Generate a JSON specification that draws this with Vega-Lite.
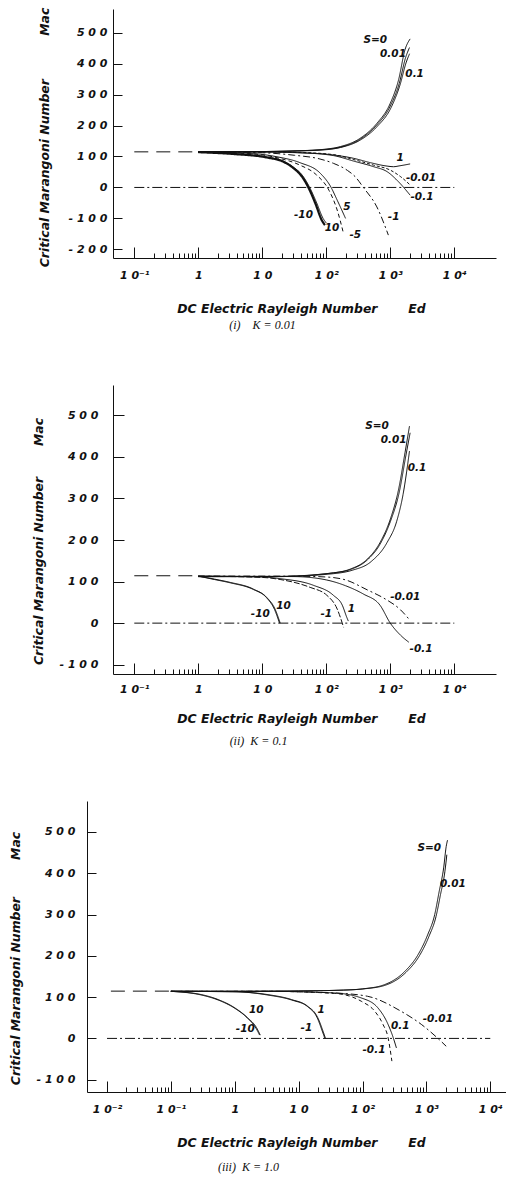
{
 "$schema": "https://vega.github.io/schema/vega-lite/v6.json",
 "background": "white",
 "padding": {"left": 9, "top": 7, "right": 0, "bottom": 0},
 "bounds": "flush",
 "spacing": 127,
 "config": {
  "view": {"stroke": null},
  "axis": {"grid": false, "domainColor": "#111", "tickColor": "#111", "labelColor": "#111", "titleColor": "#111", "labelFont": "DejaVu Sans", "labelFontSize": 11, "labelFontWeight": "bold", "labelFontStyle": "italic", "titleFont": "DejaVu Sans", "titleFontSize": 12.4, "titleFontWeight": "bold", "titleFontStyle": "italic", "labelOverlap": false, "labelFlush": false, "tickWidth": 1, "domainWidth": 1},
  "title": {"font": "Liberation Serif", "fontSize": 12, "fontStyle": "italic", "fontWeight": "normal", "color": "#111"},
  "text": {"font": "DejaVu Sans", "fontSize": 10.5, "fontWeight": "bold", "fontStyle": "italic", "color": "#111"},
  "line": {"color": "#111"}
 },
 "resolve": {"scale": {"x": "independent", "y": "independent", "strokeDash": "independent"}},
 "datasets": {
  "c1": [
   {"S":"0","Ed":1,"Mac":115},{"S":"0","Ed":10,"Mac":116},{"S":"0","Ed":31.6,"Mac":118},{"S":"0","Ed":100,"Mac":124},{"S":"0","Ed":166,"Mac":132},{"S":"0","Ed":339,"Mac":159},{"S":"0","Ed":617,"Mac":207},{"S":"0","Ed":1000,"Mac":272},{"S":"0","Ed":1349,"Mac":348},{"S":"0","Ed":1698,"Mac":445},{"S":"0","Ed":2042,"Mac":480},
   {"S":"0.01","Ed":1,"Mac":115},{"S":"0.01","Ed":10,"Mac":116},{"S":"0.01","Ed":31.6,"Mac":118},{"S":"0.01","Ed":100,"Mac":123},{"S":"0.01","Ed":166,"Mac":130},{"S":"0.01","Ed":339,"Mac":156},{"S":"0.01","Ed":617,"Mac":202},{"S":"0.01","Ed":1000,"Mac":263},{"S":"0.01","Ed":1380,"Mac":336},{"S":"0.01","Ed":1738,"Mac":420},{"S":"0.01","Ed":1995,"Mac":452},
   {"S":"0.1","Ed":1,"Mac":115},{"S":"0.1","Ed":10,"Mac":116},{"S":"0.1","Ed":31.6,"Mac":117.5},{"S":"0.1","Ed":100,"Mac":122},{"S":"0.1","Ed":166,"Mac":129},{"S":"0.1","Ed":339,"Mac":153},{"S":"0.1","Ed":617,"Mac":196},{"S":"0.1","Ed":1023,"Mac":257},{"S":"0.1","Ed":1413,"Mac":330},{"S":"0.1","Ed":1778,"Mac":405},{"S":"0.1","Ed":2000,"Mac":432},
   {"S":"1","Ed":1,"Mac":115},{"S":"1","Ed":10,"Mac":114},{"S":"1","Ed":38.9,"Mac":112},{"S":"1","Ed":129,"Mac":105},{"S":"1","Ed":269,"Mac":94},{"S":"1","Ed":490,"Mac":80},{"S":"1","Ed":891,"Mac":69},{"S":"1","Ed":1122,"Mac":67},{"S":"1","Ed":1413,"Mac":70},{"S":"1","Ed":2042,"Mac":76},
   {"S":"-0.01","Ed":1,"Mac":115},{"S":"-0.01","Ed":10,"Mac":115},{"S":"-0.01","Ed":39.8,"Mac":113},{"S":"-0.01","Ed":129,"Mac":106},{"S":"-0.01","Ed":269,"Mac":90},{"S":"-0.01","Ed":550,"Mac":72},{"S":"-0.01","Ed":1000,"Mac":56},{"S":"-0.01","Ed":1445,"Mac":35},{"S":"-0.01","Ed":2042,"Mac":8},
   {"S":"-0.1","Ed":1,"Mac":115},{"S":"-0.1","Ed":10,"Mac":115},{"S":"-0.1","Ed":39.8,"Mac":112},{"S":"-0.1","Ed":129,"Mac":103},{"S":"-0.1","Ed":269,"Mac":85},{"S":"-0.1","Ed":550,"Mac":67},{"S":"-0.1","Ed":891,"Mac":51},{"S":"-0.1","Ed":1349,"Mac":18},{"S":"-0.1","Ed":2042,"Mac":-25},
   {"S":"-1","Ed":1,"Mac":115},{"S":"-1","Ed":10,"Mac":112},{"S":"-1","Ed":31.6,"Mac":104},{"S":"-1","Ed":79.4,"Mac":92},{"S":"-1","Ed":129,"Mac":78},{"S":"-1","Ed":214,"Mac":55},{"S":"-1","Ed":282,"Mac":35},{"S":"-1","Ed":380,"Mac":0},{"S":"-1","Ed":617,"Mac":-63},{"S":"-1","Ed":933,"Mac":-154},
   {"S":"5","Ed":1,"Mac":114},{"S":"5","Ed":6.46,"Mac":110},{"S":"5","Ed":17,"Mac":99},{"S":"5","Ed":38.9,"Mac":80},{"S":"5","Ed":81.3,"Mac":45},{"S":"5","Ed":117.5,"Mac":2},{"S":"5","Ed":148,"Mac":-41},{"S":"5","Ed":200,"Mac":-100},
   {"S":"-5","Ed":1,"Mac":114},{"S":"-5","Ed":6.46,"Mac":109},{"S":"-5","Ed":17,"Mac":96},{"S":"-5","Ed":38.9,"Mac":72},{"S":"-5","Ed":70.8,"Mac":40},{"S":"-5","Ed":110,"Mac":-9},{"S":"-5","Ed":148,"Mac":-73},{"S":"-5","Ed":186,"Mac":-149},
   {"S":"-10","Ed":1,"Mac":114},{"S":"-10","Ed":3.55,"Mac":108},{"S":"-10","Ed":11.7,"Mac":97},{"S":"-10","Ed":21.4,"Mac":83},{"S":"-10","Ed":30.9,"Mac":62},{"S":"-10","Ed":41.7,"Mac":35},{"S":"-10","Ed":52.5,"Mac":0},{"S":"-10","Ed":67.6,"Mac":-52},{"S":"-10","Ed":85.1,"Mac":-106},{"S":"-10","Ed":95.5,"Mac":-122},
   {"S":"10","Ed":1,"Mac":114},{"S":"10","Ed":3.55,"Mac":108.5},{"S":"10","Ed":11.7,"Mac":98},{"S":"10","Ed":21.4,"Mac":85},{"S":"10","Ed":30.9,"Mac":65},{"S":"10","Ed":42.7,"Mac":38},{"S":"10","Ed":55,"Mac":0},{"S":"10","Ed":70.8,"Mac":-50},{"S":"10","Ed":89.1,"Mac":-100},{"S":"10","Ed":100,"Mac":-115},
   {"S":"zero","Ed":0.1,"Mac":0},{"S":"zero","Ed":10000,"Mac":0},
   {"S":"asym","Ed":0.1,"Mac":115},{"S":"asym","Ed":1,"Mac":115}
  ],
  "t1": [
   {"t":"S=0","Ed":583,"Mac":475},{"t":"0.01","Ed":1102,"Mac":432},{"t":"0.1","Ed":2400,"Mac":366},{"t":"1","Ed":1432,"Mac":94},{"t":"-0.01","Ed":3020,"Mac":32},{"t":"-0.1","Ed":3127,"Mac":-30},{"t":"-1","Ed":1130,"Mac":-95},{"t":"5","Ed":210,"Mac":-63},{"t":"-5","Ed":284,"Mac":-155},{"t":"-10","Ed":44,"Mac":-90},{"t":"10","Ed":123,"Mac":-130}
  ],
  "c2": [
   {"S":"0","Ed":1,"Mac":112},{"S":"0","Ed":17,"Mac":112},{"S":"0","Ed":129,"Mac":121},{"S":"0","Ed":237,"Mac":130},{"S":"0","Ed":437,"Mac":154},{"S":"0","Ed":692,"Mac":194},{"S":"0","Ed":1000,"Mac":250},{"S":"0","Ed":1349,"Mac":322},{"S":"0","Ed":1698,"Mac":410},{"S":"0","Ed":1995,"Mac":474},
   {"S":"0.01","Ed":1,"Mac":112},{"S":"0.01","Ed":17,"Mac":112.5},{"S":"0.01","Ed":129,"Mac":121},{"S":"0.01","Ed":237,"Mac":129},{"S":"0.01","Ed":437,"Mac":152},{"S":"0.01","Ed":692,"Mac":190},{"S":"0.01","Ed":1000,"Mac":244},{"S":"0.01","Ed":1380,"Mac":315},{"S":"0.01","Ed":1738,"Mac":400},{"S":"0.01","Ed":2042,"Mac":458},
   {"S":"0.1","Ed":1,"Mac":112},{"S":"0.1","Ed":17,"Mac":112},{"S":"0.1","Ed":129,"Mac":119},{"S":"0.1","Ed":251,"Mac":127},{"S":"0.1","Ed":501,"Mac":148},{"S":"0.1","Ed":891,"Mac":194},{"S":"0.1","Ed":1259,"Mac":245},{"S":"0.1","Ed":1585,"Mac":310},{"S":"0.1","Ed":1995,"Mac":414},
   {"S":"10","Ed":1,"Mac":113},{"S":"10","Ed":1.78,"Mac":106},{"S":"10","Ed":3.16,"Mac":98},{"S":"10","Ed":7.24,"Mac":82},{"S":"10","Ed":11.7,"Mac":62},{"S":"10","Ed":15.8,"Mac":34},{"S":"10","Ed":19.05,"Mac":0},
   {"S":"-10","Ed":1,"Mac":113},{"S":"-10","Ed":1.78,"Mac":105},{"S":"-10","Ed":3.16,"Mac":97},{"S":"-10","Ed":7.24,"Mac":81},{"S":"-10","Ed":11.7,"Mac":61},{"S":"-10","Ed":15.5,"Mac":33},{"S":"-10","Ed":18.6,"Mac":0},
   {"S":"1","Ed":1,"Mac":113},{"S":"1","Ed":10,"Mac":111},{"S":"1","Ed":19,"Mac":107},{"S":"1","Ed":63,"Mac":91},{"S":"1","Ed":129,"Mac":67},{"S":"1","Ed":178,"Mac":43},{"S":"1","Ed":209,"Mac":14},{"S":"1","Ed":221,"Mac":5},
   {"S":"-1","Ed":1,"Mac":113},{"S":"-1","Ed":10,"Mac":110},{"S":"-1","Ed":19,"Mac":105},{"S":"-1","Ed":56,"Mac":86},{"S":"-1","Ed":102,"Mac":67},{"S":"-1","Ed":148,"Mac":34},{"S":"-1","Ed":176,"Mac":2},{"S":"-1","Ed":186,"Mac":-10},
   {"S":"-0.01","Ed":1,"Mac":113},{"S":"-0.01","Ed":31.6,"Mac":113},{"S":"-0.01","Ed":100,"Mac":111},{"S":"-0.01","Ed":200,"Mac":104},{"S":"-0.01","Ed":437,"Mac":80},{"S":"-0.01","Ed":794,"Mac":60},{"S":"-0.01","Ed":1445,"Mac":32},{"S":"-0.01","Ed":1950,"Mac":10},
   {"S":"-0.1","Ed":1,"Mac":113},{"S":"-0.1","Ed":31.6,"Mac":112},{"S":"-0.1","Ed":100,"Mac":104},{"S":"-0.1","Ed":200,"Mac":90},{"S":"-0.1","Ed":380,"Mac":70},{"S":"-0.1","Ed":692,"Mac":43},{"S":"-0.1","Ed":1000,"Mac":0},{"S":"-0.1","Ed":1445,"Mac":-29},{"S":"-0.1","Ed":1950,"Mac":-46},
   {"S":"zero","Ed":0.1,"Mac":0},{"S":"zero","Ed":10000,"Mac":0},
   {"S":"asym","Ed":0.1,"Mac":114},{"S":"asym","Ed":1,"Mac":114}
  ],
  "t2": [
   {"t":"S=0","Ed":620,"Mac":474},{"t":"0.01","Ed":1130,"Mac":441},{"t":"0.1","Ed":2612,"Mac":374},{"t":"-0.01","Ed":1715,"Mac":62},{"t":"-0.1","Ed":3020,"Mac":-63},{"t":"1","Ed":246,"Mac":33},{"t":"-1","Ed":100,"Mac":22},{"t":"10","Ed":21.5,"Mac":42},{"t":"-10","Ed":9.3,"Mac":22}
  ],
  "c3": [
   {"S":"0","Ed":0.1,"Mac":114},{"S":"0","Ed":1,"Mac":114},{"S":"0","Ed":10,"Mac":115},{"S":"0","Ed":50,"Mac":117},{"S":"0","Ed":100,"Mac":120},{"S":"0","Ed":219,"Mac":130},{"S":"0","Ed":457,"Mac":162},{"S":"0","Ed":741,"Mac":203},{"S":"0","Ed":1047,"Mac":251},{"S":"0","Ed":1349,"Mac":300},{"S":"0","Ed":1585,"Mac":356},{"S":"0","Ed":1862,"Mac":413},{"S":"0","Ed":2042,"Mac":465},{"S":"0","Ed":2138,"Mac":480},
   {"S":"0.01","Ed":0.1,"Mac":114},{"S":"0.01","Ed":1,"Mac":114},{"S":"0.01","Ed":10,"Mac":115},{"S":"0.01","Ed":50,"Mac":117},{"S":"0.01","Ed":105,"Mac":120},{"S":"0.01","Ed":229,"Mac":129},{"S":"0.01","Ed":479,"Mac":160},{"S":"0.01","Ed":776,"Mac":200},{"S":"0.01","Ed":1096,"Mac":247},{"S":"0.01","Ed":1413,"Mac":295},{"S":"0.01","Ed":1660,"Mac":348},{"S":"0.01","Ed":1950,"Mac":405},{"S":"0.01","Ed":2089,"Mac":445},
   {"S":"10","Ed":0.1,"Mac":114},{"S":"10","Ed":0.302,"Mac":106},{"S":"10","Ed":0.55,"Mac":94},{"S":"10","Ed":1,"Mac":74},{"S":"10","Ed":1.585,"Mac":50},{"S":"10","Ed":2.19,"Mac":26},{"S":"10","Ed":2.51,"Mac":8},
   {"S":"-10","Ed":0.1,"Mac":114},{"S":"-10","Ed":0.302,"Mac":105},{"S":"-10","Ed":0.55,"Mac":93},{"S":"-10","Ed":1,"Mac":73},{"S":"-10","Ed":1.585,"Mac":49},{"S":"-10","Ed":2.14,"Mac":25},{"S":"-10","Ed":2.45,"Mac":8},
   {"S":"1","Ed":0.1,"Mac":114},{"S":"1","Ed":1,"Mac":113},{"S":"1","Ed":3.31,"Mac":106},{"S":"1","Ed":7.76,"Mac":94},{"S":"1","Ed":13.8,"Mac":78},{"S":"1","Ed":19.95,"Mac":50},{"S":"1","Ed":24,"Mac":18},{"S":"1","Ed":26.3,"Mac":0},
   {"S":"-1","Ed":0.1,"Mac":114},{"S":"-1","Ed":1,"Mac":113},{"S":"-1","Ed":3.31,"Mac":105},{"S":"-1","Ed":7.76,"Mac":93},{"S":"-1","Ed":13.8,"Mac":77},{"S":"-1","Ed":19.5,"Mac":50},{"S":"-1","Ed":23.4,"Mac":18},{"S":"-1","Ed":25.7,"Mac":0},
   {"S":"0.1","Ed":0.1,"Mac":114},{"S":"0.1","Ed":3.16,"Mac":114},{"S":"0.1","Ed":36.3,"Mac":110},{"S":"0.1","Ed":95.5,"Mac":98},{"S":"0.1","Ed":174,"Mac":74},{"S":"0.1","Ed":251,"Mac":34},{"S":"0.1","Ed":302,"Mac":2},{"S":"0.1","Ed":339,"Mac":-23},
   {"S":"-0.1","Ed":0.1,"Mac":114},{"S":"-0.1","Ed":3.16,"Mac":114},{"S":"-0.1","Ed":36.3,"Mac":109},{"S":"-0.1","Ed":95.5,"Mac":90},{"S":"-0.1","Ed":155,"Mac":66},{"S":"-0.1","Ed":209,"Mac":34},{"S":"-0.1","Ed":251,"Mac":2},{"S":"-0.1","Ed":288,"Mac":-55},
   {"S":"-0.01","Ed":0.1,"Mac":114},{"S":"-0.01","Ed":3.16,"Mac":114},{"S":"-0.01","Ed":36.3,"Mac":110},{"S":"-0.01","Ed":120,"Mac":102},{"S":"-0.01","Ed":398,"Mac":66},{"S":"-0.01","Ed":832,"Mac":34},{"S":"-0.01","Ed":1514,"Mac":0},{"S":"-0.01","Ed":2042,"Mac":-19},
   {"S":"zero","Ed":0.01,"Mac":0},{"S":"zero","Ed":10000,"Mac":0},
   {"S":"asym","Ed":0.0115,"Mac":114.5},{"S":"asym","Ed":0.1,"Mac":114.5}
  ],
  "t3": [
   {"t":"S=0","Ed":1107,"Mac":460},{"t":"0.01","Ed":2595,"Mac":373},{"t":"10","Ed":2.17,"Mac":70},{"t":"-10","Ed":1.46,"Mac":22},{"t":"1","Ed":22.6,"Mac":68},{"t":"-1","Ed":13.2,"Mac":26},{"t":"0.1","Ed":390,"Mac":31},{"t":"-0.1","Ed":151,"Mac":-27},{"t":"-0.01","Ed":1510,"Mac":48}
  ]
 },
 "vconcat": [
  {
   "width": 409, "height": 249,
   "title": {"text": "(i)\u2003K = 0.01", "orient": "bottom", "frame": "group", "anchor": "middle", "dx": -29, "offset": 6},
   "encoding": {
    "x": {"field": "Ed", "type": "quantitative",
     "scale": {"type": "log", "domain": [0.0465, 44850], "range": [26, 409], "nice": false},
     "axis": {"title": "DC Electric Rayleigh Number\u2003\u2003\u2002Ed", "titleX": 214, "titleY": 50, "titleBaseline": "middle", "titleAlign": "center",
      "values": [0.1,0.2,0.3,0.4,0.5,0.6,0.7,0.8,0.9,1,2,3,4,5,6,7,8,9,10,20,30,40,50,60,70,80,90,100,200,300,400,500,600,700,800,900,1000,2000,3000,4000,5000,6000,7000,8000,9000,10000],
      "labelExpr": "datum.value == 0.1 ? '1 0\u207B\u00B9' : datum.value == 1 ? '1' : datum.value == 10 ? '1 0' : datum.value == 100 ? '1 0\u00B2' : datum.value == 1000 ? '1 0\u00B3' : datum.value == 10000 ? '1 0\u2074' : ''",
      "labelBaseline": "middle", "labelPadding": 28,
      "tickSize": {"condition": {"test": "datum.value == 0.1 || datum.value == 1 || datum.value == 10 || datum.value == 100 || datum.value == 1000 || datum.value == 10000", "value": -11}, "value": -5}}},
    "y": {"field": "Mac", "type": "quantitative",
     "scale": {"domain": [-228, 576.6], "nice": false, "zero": false},
     "axis": {"title": "Critical Marangoni Number\u2003\u2003\u2003\u2002Ma\u1D04", "titleX": -69, "titleY": 128, "titleAngle": 270, "titleAlign": "center", "titleBaseline": "middle",
      "values": [-200,-100,0,100,200,300,400,500],
      "labelExpr": "datum.value == 500 ? '5 0 0' : datum.value == 400 ? '4 0 0' : datum.value == 300 ? '3 0 0' : datum.value == 200 ? '2 0 0' : datum.value == 100 ? '1 0 0' : datum.value == 0 ? '0' : datum.value == -100 ? '- 1 0 0' : '- 2 0 0'",
      "tickSize": -9, "labelPadding": 15, "offset": -26}}
   },
   "layer": [
    {"data": {"name": "c1"}, "mark": {"type": "line", "interpolate": "monotone"},
     "encoding": {
      "strokeDash": {"field": "S", "type": "nominal", "legend": null,
       "scale": {"domain": ["0","0.01","0.1","1","-0.01","-0.1","-1","5","-5","10","-10","zero","asym"],
        "range": [[1,0],[1,0],[1,0],[1,0],[3,2],[1,0],[7,3,2,3],[1,0],[4,3],[1,0],[1,0],[10,3,2,3],[14,8]]}},
      "strokeWidth": {"condition": {"test": "datum.S === '-10'", "value": 2.2}, "value": 1}}},
    {"data": {"name": "t1"}, "mark": {"type": "text"}, "encoding": {"text": {"field": "t", "type": "nominal"}}}
   ]
  },
  {
   "width": 409, "height": 289,
   "title": {"text": "(ii)\u2002K = 0.1", "orient": "bottom", "frame": "group", "anchor": "middle", "dx": -33, "offset": 12},
   "encoding": {
    "x": {"field": "Ed", "type": "quantitative",
     "scale": {"type": "log", "domain": [0.0465, 44850], "range": [26, 409], "nice": false},
     "axis": {"title": "DC Electric Rayleigh Number\u2003\u2003\u2002Ed", "titleX": 214, "titleY": 44, "titleBaseline": "middle", "titleAlign": "center",
      "values": [0.1,0.2,0.3,0.4,0.5,0.6,0.7,0.8,0.9,1,2,3,4,5,6,7,8,9,10,20,30,40,50,60,70,80,90,100,200,300,400,500,600,700,800,900,1000,2000,3000,4000,5000,6000,7000,8000,9000,10000],
      "labelExpr": "datum.value == 0.1 ? '1 0\u207B\u00B9' : datum.value == 1 ? '1' : datum.value == 10 ? '1 0' : datum.value == 100 ? '1 0\u00B2' : datum.value == 1000 ? '1 0\u00B3' : datum.value == 10000 ? '1 0\u2074' : ''",
      "labelBaseline": "middle", "labelPadding": 26,
      "tickSize": {"condition": {"test": "datum.value == 0.1 || datum.value == 1 || datum.value == 10 || datum.value == 100 || datum.value == 1000 || datum.value == 10000", "value": -11}, "value": -5}}},
    "y": {"field": "Mac", "type": "quantitative",
     "scale": {"domain": [-122.4, 573], "nice": false, "zero": false},
     "axis": {"title": "Critical Marangoni Number\u2003\u2003\u2002Ma\u1D04", "titleX": -75, "titleY": 156, "titleAngle": 270, "titleAlign": "center", "titleBaseline": "middle",
      "values": [-100,0,100,200,300,400,500],
      "labelExpr": "datum.value == 500 ? '5 0 0' : datum.value == 400 ? '4 0 0' : datum.value == 300 ? '3 0 0' : datum.value == 200 ? '2 0 0' : datum.value == 100 ? '1 0 0' : datum.value == 0 ? '0' : '- 1 0 0'",
      "tickSize": -11, "labelPadding": 26, "offset": -26}}
   },
   "layer": [
    {"data": {"name": "c2"}, "mark": {"type": "line", "interpolate": "monotone", "strokeWidth": 1},
     "encoding": {
      "strokeDash": {"field": "S", "type": "nominal", "legend": null,
       "scale": {"domain": ["0","0.01","0.1","10","-10","1","-1","-0.01","-0.1","zero","asym"],
        "range": [[1,0],[1,0],[1,0],[1,0],[1,0],[1,0],[6,2],[7,3,2,3],[1,0],[10,3,2,3],[14,8]]}}}},
    {"data": {"name": "t2"}, "mark": {"type": "text"}, "encoding": {"text": {"field": "t", "type": "nominal"}}}
   ]
  },
  {
   "width": 419, "height": 291,
   "title": {"text": "(iii)\u2002K = 1.0", "orient": "bottom", "frame": "group", "anchor": "middle", "dx": -48, "offset": 14},
   "encoding": {
    "x": {"field": "Ed", "type": "quantitative",
     "scale": {"type": "log", "domain": [0.00486, 17620], "nice": false},
     "axis": {"title": "DC Electric Rayleigh Number\u2003\u2003\u2002Ed", "titleX": 214, "titleY": 50, "titleBaseline": "middle", "titleAlign": "center",
      "values": [0.01,0.02,0.03,0.04,0.05,0.06,0.07,0.08,0.09,0.1,0.2,0.3,0.4,0.5,0.6,0.7,0.8,0.9,1,2,3,4,5,6,7,8,9,10,20,30,40,50,60,70,80,90,100,200,300,400,500,600,700,800,900,1000,2000,3000,4000,5000,6000,7000,8000,9000,10000],
      "labelExpr": "datum.value == 0.01 ? '1 0\u207B\u00B2' : datum.value == 0.1 ? '1 0\u207B\u00B9' : datum.value == 1 ? '1' : datum.value == 10 ? '1 0' : datum.value == 100 ? '1 0\u00B2' : datum.value == 1000 ? '1 0\u00B3' : datum.value == 10000 ? '1 0\u2074' : ''",
      "labelBaseline": "middle", "labelPadding": 28,
      "tickSize": {"condition": {"test": "datum.value == 0.01 || datum.value == 0.1 || datum.value == 1 || datum.value == 10 || datum.value == 100 || datum.value == 1000 || datum.value == 10000", "value": -11}, "value": -5}}},
    "y": {"field": "Mac", "type": "quantitative",
     "scale": {"domain": [-129.8, 575], "nice": false, "zero": false},
     "axis": {"title": "Critical Marangoni Number\u2003\u2003\u2003Ma\u1D04", "titleX": -72, "titleY": 157, "titleAngle": 270, "titleAlign": "center", "titleBaseline": "middle",
      "values": [-100,0,100,200,300,400,500],
      "labelExpr": "datum.value == 500 ? '5 0 0' : datum.value == 400 ? '4 0 0' : datum.value == 300 ? '3 0 0' : datum.value == 200 ? '2 0 0' : datum.value == 100 ? '1 0 0' : datum.value == 0 ? '0' : '- 1 0 0'",
      "tickSize": -9, "labelPadding": 21}}
   },
   "layer": [
    {"data": {"name": "c3"}, "mark": {"type": "line", "interpolate": "monotone", "strokeWidth": 1},
     "encoding": {
      "strokeDash": {"field": "S", "type": "nominal", "legend": null,
       "scale": {"domain": ["0","0.01","10","-10","1","-1","0.1","-0.1","-0.01","zero","asym"],
        "range": [[1,0],[1,0],[1,0],[1,0],[1,0],[1,0],[1,0],[4,3],[7,3,2,3],[10,3,2,3],[14,8]]}}}},
    {"data": {"name": "t3"}, "mark": {"type": "text"}, "encoding": {"text": {"field": "t", "type": "nominal"}}}
   ]
  }
 ]
}
